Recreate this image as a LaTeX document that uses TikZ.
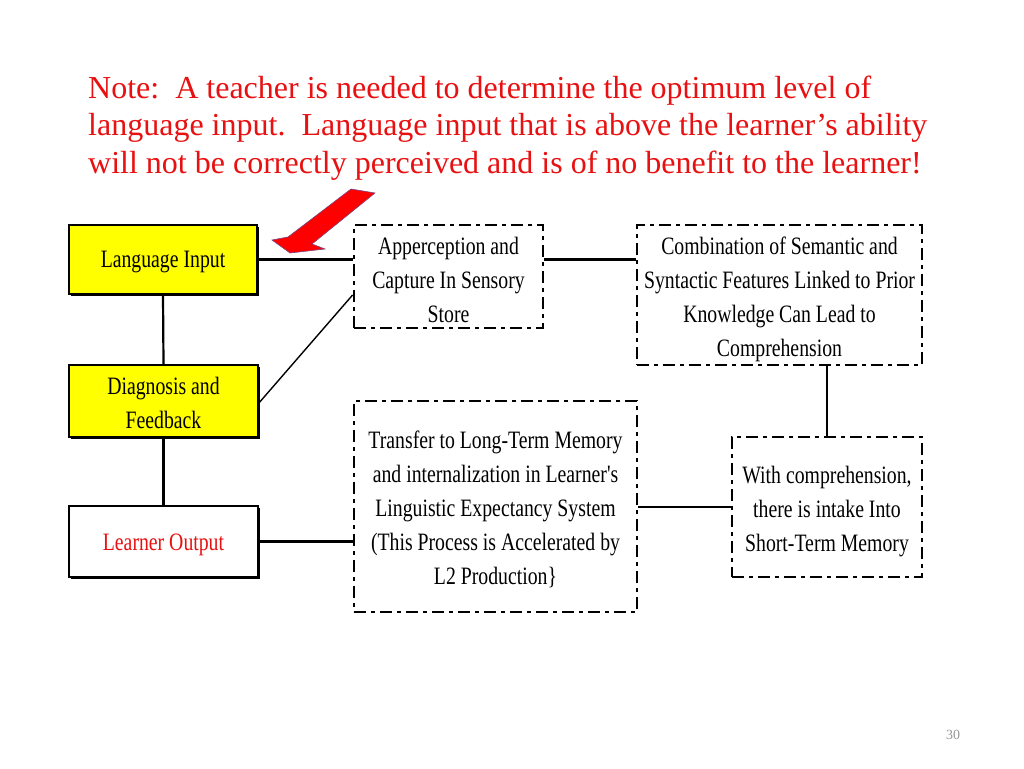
\documentclass[tikz,border=0pt]{standalone}
\usepackage{fontspec}
\setmainfont{Liberation Serif}
\newfontfamily\condfont{Liberation Serif}[FakeStretch=0.79]
\usetikzlibrary{shadows}
\definecolor{notered}{RGB}{232,16,16}
\definecolor{boxyellow}{RGB}{255,255,0}
\definecolor{pagegray}{RGB}{150,150,150}
\definecolor{arrowedge}{RGB}{120,70,130}
\tikzset{
  boxtext/.style={align=center, inner sep=0pt, yshift=-3pt,
    font=\condfont\fontsize{25}{34}\selectfont},
  solidbox/.style={draw=black, line width=1.8pt, rectangle, inner sep=0pt,
    drop shadow={shadow xshift=2pt, shadow yshift=-2pt, fill=black, opacity=1}},
  dashbox/.style={draw=black, line width=2.8pt, rectangle, inner sep=0pt,
    dash pattern=on 12pt off 5pt on 4pt off 5pt, fill=white},
  link/.style={draw=black, line width=2.2pt},
  notetext/.style={anchor=base west, inner sep=0pt, text=notered, font=\fontsize{32}{37.5}\selectfont}
}
\begin{document}
\begin{tikzpicture}[x=1pt,y=-1pt]
\useasboundingbox[fill=white] (0,0) rectangle (1024,768);
% note
\node[notetext] (n1) at (88,98) {Note:\ \ A teacher is needed to determine the optimum level of};
\node[notetext] (n2) at (88,135.5) {language input.\ \ Language input that is above the learner’s ability};
\node[notetext] (n3) at (88,173) {will not be correctly perceived and is of no benefit to the learner!};
% left boxes
\node[solidbox, fill=boxyellow, minimum width=188pt, minimum height=69pt,
  label={[boxtext]center:{Language Input}}] (li) at (163,259.5) {};
\node[solidbox, fill=boxyellow, minimum width=189pt, minimum height=72pt,
  label={[boxtext, yshift=1pt]center:{Diagnosis and\\Feedback}}] (dg) at (163.5,401) {};
\node[solidbox, fill=white, minimum width=189pt, minimum height=71pt,
  label={[boxtext, text=notered]center:{Learner Output}}] (lo) at (163.5,541.5) {};
% dashed boxes
\node[dashbox, minimum width=189pt, minimum height=103pt,
  label={[boxtext]center:{Apperception and\\Capture In Sensory\\Store}}] (ap) at (448.5,276.5) {};
\node[dashbox, minimum width=285pt, minimum height=140pt,
  label={[boxtext, yshift=-1pt]center:{Combination of Semantic and\\Syntactic Features Linked to Prior\\Knowledge Can Lead to\\Comprehension}}] (cb) at (779.5,295) {};
\node[dashbox, minimum width=190pt, minimum height=140pt,
  label={[boxtext, yshift=-2pt]center:{With comprehension,\\there is intake Into\\Short-Term Memory}}] (wc) at (827,507) {};
\node[dashbox, minimum width=283pt, minimum height=211pt,
  label={[boxtext]center:{Transfer to Long-Term Memory\\and internalization in Learner's\\Linguistic Expectancy System\\(This Process is Accelerated by\\L2 Production\}}}] (tr) at (495.5,506.5) {};
% connectors
\draw[link] (li.east) -- (li.east -| ap.west);
\draw[link] (ap.east |- li.east) -- (cb.west |- li.east);
\draw[link] (li.south) -- (dg.north);
\draw[link] (dg.south) -- (lo.north);
\draw[link, line width=1.4pt] ([yshift=-2pt]dg.east) -- ([yshift=-18.5pt]ap.west);
\draw[link] (cb.south -| wc.north) -- (wc.north);
\draw[link] (wc.west) -- (wc.west -| tr.east);
\draw[link] (lo.east) -- (lo.east -| tr.west);
% red arrow
\fill[red, draw=arrowedge, line width=0.6pt]
  (351,189) -- (375,193) -- (312,244) -- (325,249) -- (290,253) -- (272,240) -- (288,237) -- cycle;
% page number
\node[text=pagegray, font=\fontsize{14}{16}\selectfont, inner sep=0pt] (pg) at (953,735) {30};
\end{tikzpicture}
\end{document}
